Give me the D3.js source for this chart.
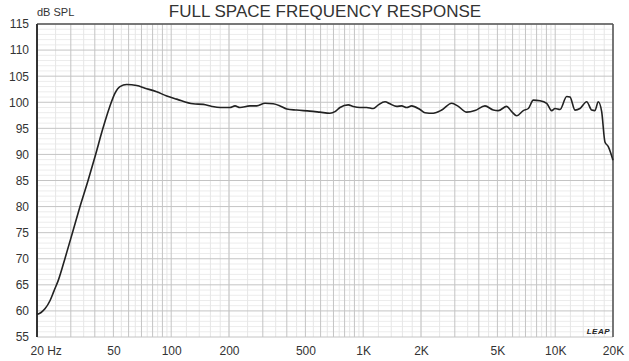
<!DOCTYPE html>
<html><head><meta charset="utf-8">
<script src="https://cdn.jsdelivr.net/npm/d3@7"></script>
<style>body{margin:0;background:#fff}svg{display:block}text{font-family:"Liberation Sans",Arial,sans-serif;fill:#333}</style>
</head><body><svg id="c" width="629" height="361"></svg>
<script>
const title = "FULL SPACE FREQUENCY RESPONSE";
const yLabel = "dB SPL";
const freqs = [20,21,22,23.4,24.5,25.9,28.1,30.6,33.5,36.9,40.4,44.1,47.7,50.9,54.1,58.6,66.1,73,84,94.8,106.8,130,147,163,180,202,215,228,257,279,308,340,369,400,450,528,596,671,713,757,836,887,962,1042,1129,1199,1299,1379,1494,1586,1684,1788,1976,2098,2318,2564,2890,3129,3460,3820,4308,4762,5054,5590,5935,6302,6822,7244,7690,8334,9030,9588,9976,10594,11482,11940,12678,13460,14590,15490,16108,16760,17460,18156,18900,20000];
const spl = [59.3,59.7,60.4,62.0,63.8,66.0,70.3,75.0,80.0,85.0,90.0,95.0,99.0,101.7,103.0,103.4,103.2,102.7,102.0,101.2,100.6,99.7,99.6,99.2,99.0,99.0,99.3,99.0,99.3,99.3,99.8,99.7,99.3,98.7,98.5,98.3,98.1,97.9,98.2,99.0,99.5,99.2,99.0,99.0,98.8,99.5,100.1,99.7,99.2,99.3,99.0,99.3,98.6,98.0,97.9,98.5,99.8,99.2,98.1,98.4,99.3,98.5,98.4,99.2,98.2,97.4,98.4,98.8,100.4,100.3,99.8,98.4,98.8,98.6,101.1,101.0,98.5,98.8,100.1,98.5,98.4,100.1,98.2,92.4,91.5,88.9];
const xTickVals = [20,50,100,200,500,1000,2000,5000,10000,20000];
const xTickLabels = ["20 Hz","50","100","200","500","1K","2K","5K","10K","20K"];
const yTicks = [55,60,65,70,75,80,85,90,95,100,105,110,115];

const svg = d3.select("#c");
const m = {l:37, r:16, t:24, b:24};
const W = 629, H = 361;
const x = d3.scaleLog().domain([20,20000]).range([m.l, W-m.r]);
const y = d3.scaleLinear().domain([55,115]).range([H-m.b, m.t]);

// grid
const majV = [], minV = [];
[10,100,1000,10000].forEach(d=>{
  for(let k=1;k<10;k++){ const f=k*d; if(f>=20&&f<=20000) majV.push(f); }
  for(let k=1.2;k<2;k+=0.2){ const f=k*d; if(f>20&&f<20000) minV.push(f); }
  for(let k=2.5;k<10;k+=1){ const f=k*d; if(f>20&&f<20000) minV.push(f); }
});
const g = svg.append("g");
for(let v=56; v<115; v++) if(v%5) g.append("line").attr("x1",m.l).attr("x2",W-m.r).attr("y1",y(v)).attr("y2",y(v)).attr("stroke","#ececec");
minV.forEach(f=>g.append("line").attr("x1",x(f)).attr("x2",x(f)).attr("y1",m.t).attr("y2",H-m.b).attr("stroke","#e6e6e6"));
yTicks.forEach(v=>g.append("line").attr("x1",m.l).attr("x2",W-m.r).attr("y1",y(v)).attr("y2",y(v)).attr("stroke","#c4c4c4"));
majV.forEach(f=>g.append("line").attr("x1",x(f)).attr("x2",x(f)).attr("y1",m.t).attr("y2",H-m.b).attr("stroke","#c4c4c4"));

// frame
svg.append("line").attr("x1",m.l).attr("x2",W-m.r).attr("y1",m.t).attr("y2",m.t).attr("stroke","#555").attr("stroke-width",1.5);
svg.append("line").attr("x1",W-m.r).attr("x2",W-m.r).attr("y1",m.t).attr("y2",H-m.b).attr("stroke","#555").attr("stroke-width",1.5);
svg.append("line").attr("x1",m.l).attr("x2",m.l).attr("y1",m.t).attr("y2",H-m.b).attr("stroke","#333").attr("stroke-width",2);

// axes labels
const yAxis = d3.axisLeft(y).tickValues(yTicks).tickSize(0).tickPadding(8);
const ya = svg.append("g").attr("transform",`translate(${m.l},0)`).call(yAxis);
ya.select(".domain").remove();
ya.selectAll("text").attr("font-size",12).style("fill","#333").attr("font-family","Liberation Sans, Arial, sans-serif");
const xAxis = d3.axisBottom(x).tickValues(xTickVals).tickFormat((d,i)=>xTickLabels[i]).tickSize(0).tickPadding(9);
const xa = svg.append("g").attr("transform",`translate(0,${H-m.b})`).call(xAxis);
xa.select(".domain").remove();
xa.selectAll("text").attr("font-size",12).style("fill","#333").attr("font-family","Liberation Sans, Arial, sans-serif");
xa.selectAll("text").filter((d,i)=>i===0).attr("text-anchor","start").attr("dx",-7);

svg.append("text").attr("x",m.l).attr("y",16).attr("font-size",11).text(yLabel);
svg.append("text").attr("x",325).attr("y",17).attr("text-anchor","middle").attr("font-size",17).text(title);
svg.append("text").attr("x",W-m.r-3).attr("y",H-m.b-3).attr("text-anchor","end").attr("font-size",8).attr("font-weight","bold").attr("font-style","italic").attr("letter-spacing",0.5).style("fill","#222").text("LEAP");

// curve
const line = d3.line().x((d,i)=>x(freqs[i])).y(d=>y(d)).curve(d3.curveMonotoneX);
svg.append("path").datum(spl).attr("d",line).attr("fill","none").attr("stroke","#222").attr("stroke-width",1.6).attr("stroke-linejoin","round");
</script></body></html>
